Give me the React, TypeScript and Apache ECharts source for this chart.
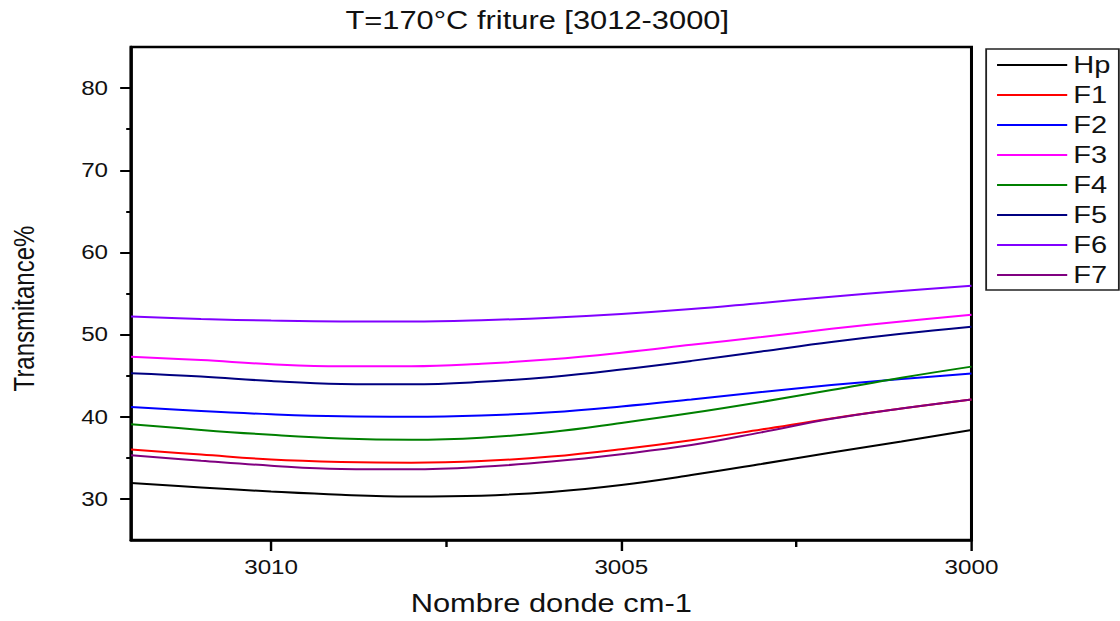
import React, { useEffect, useRef } from "react";
import * as echarts from "echarts";

// Wavenumbers (cm-1) sampled across the window, high to low
const wavenumbers = [3012, 3011, 3010, 3009, 3008, 3007, 3006, 3005, 3004, 3003, 3002, 3001, 3000];

// Transmittance (%) for each sample
const hp = [31.95, 31.4, 30.9, 30.5, 30.3, 30.4, 30.85, 31.7, 32.9, 34.25, 35.65, 37.0, 38.4];
const f1 = [36.0, 35.4, 34.8, 34.5, 34.4, 34.6, 35.15, 36.05, 37.15, 38.45, 39.8, 41.0, 42.1];
const f2 = [41.2, 40.7, 40.3, 40.05, 40.0, 40.15, 40.55, 41.25, 42.1, 43.0, 43.85, 44.6, 45.25];
const f3 = [47.3, 46.9, 46.4, 46.15, 46.15, 46.45, 47.0, 47.8, 48.75, 49.7, 50.7, 51.6, 52.4];
const f4 = [39.1, 38.4, 37.8, 37.35, 37.2, 37.45, 38.15, 39.25, 40.45, 41.8, 43.25, 44.75, 46.1];
const f5 = [45.3, 44.9, 44.35, 44.0, 43.95, 44.25, 44.85, 45.75, 46.8, 47.95, 49.1, 50.1, 50.95];
const f6 = [52.2, 51.9, 51.7, 51.6, 51.6, 51.75, 52.05, 52.5, 53.1, 53.85, 54.6, 55.3, 55.95];
const f7 = [35.3, 34.65, 34.05, 33.65, 33.6, 33.9, 34.55, 35.45, 36.55, 38.1, 39.75, 41.0, 42.1];

const seriesNames = ["Hp", "F1", "F2", "F3", "F4", "F5", "F6", "F7"];
const seriesValues = [hp, f1, f2, f3, f4, f5, f6, f7];
const seriesColors = ["#000000", "#ff0000", "#0000ff", "#ff00ff", "#008000", "#000080", "#8000ff", "#800080"];

// Axis ticks
const xMajorTicks = [3000, 3005, 3010];
const xMinorTicks = [3002.5, 3007.5];
const yMajorTicks = [30, 40, 50, 60, 70, 80];
const yMinorTicks = [35, 45, 55, 65, 75];

const FONT = "'Liberation Sans', Arial, sans-serif";
const TEXT = "#111111";

// The plot is drawn at a narrower width and stretched horizontally
const SX = 1.21;
const PAGE_W = 1120;
const PAGE_H = 621;
const CW = PAGE_W / SX;

export default function App() {
  const ref = useRef<HTMLDivElement>(null);

  useEffect(() => {
    if (!ref.current) return;
    const chart = echarts.init(ref.current, undefined, { renderer: "svg" });

    const axisCommon = {
      type: "value" as const,
      splitLine: { show: false },
    };

    chart.setOption({
      animation: false,
      backgroundColor: "#ffffff",
      title: {
        text: "T=170°C friture [3012-3000]",
        left: 444,
        top: 7,
        textAlign: "center",
        padding: 0,
        textStyle: { fontFamily: FONT, fontSize: 25.5, fontWeight: "normal", color: TEXT },
      },
      grid: {
        left: 108.3,
        right: CW - 802.5,
        top: 47,
        bottom: 80,
        show: true,
        borderColor: "#000",
        borderWidth: 2.5,
        backgroundColor: "transparent",
      },
      legend: {
        orient: "vertical",
        left: 815,
        top: 49,
        padding: [4, 7, 3, 9],
        icon: "rect",
        itemWidth: 58,
        itemHeight: 2,
        itemGap: 6,
        borderColor: "#222",
        borderWidth: 1.5,
        data: seriesNames,
        textStyle: { fontFamily: FONT, fontSize: 24, lineHeight: 24, color: TEXT },
      },
      xAxis: [
        {
          ...axisCommon,
          min: 3000,
          max: 3012,
          inverse: true,
          position: "bottom",
          name: "Nombre donde cm-1",
          nameLocation: "middle",
          nameGap: 50,
          nameTextStyle: { fontFamily: FONT, fontSize: 25.5, color: TEXT },
          axisLine: { show: true, onZero: false, lineStyle: { color: "#000", width: 2.5 } },
          axisTick: { show: true, inside: false, length: 11, customValues: xMajorTicks, lineStyle: { color: "#000", width: 2 } },
          axisLabel: {
            customValues: xMajorTicks,
            margin: 17,
            fontFamily: FONT,
            fontSize: 20,
            color: TEXT,
            formatter: (v: number) => String(v),
          },
        },
        {
          ...axisCommon,
          min: 3000,
          max: 3012,
          inverse: true,
          position: "bottom",
          axisLine: { show: false, onZero: false },
          axisTick: { show: true, inside: false, length: 7, customValues: xMinorTicks, lineStyle: { color: "#000", width: 2 } },
          axisLabel: { show: false },
        },
      ],
      yAxis: [
        {
          ...axisCommon,
          min: 25,
          max: 85,
          position: "left",
          name: "Transmitance%",
          nameLocation: "middle",
          nameRotate: 90,
          nameGap: 76,
          nameTextStyle: { fontFamily: FONT, fontSize: 24, color: TEXT, padding: [0, 30, 0, 0] },
          axisLine: { show: true, onZero: false, lineStyle: { color: "#000", width: 2.5 } },
          axisTick: { show: true, inside: false, length: 9, customValues: yMajorTicks, lineStyle: { color: "#000", width: 2 } },
          axisLabel: {
            customValues: yMajorTicks,
            margin: 19,
            fontFamily: FONT,
            fontSize: 20,
            color: TEXT,
          },
        },
        {
          ...axisCommon,
          min: 25,
          max: 85,
          position: "left",
          axisLine: { show: false, onZero: false },
          axisTick: { show: true, inside: false, length: 4, customValues: yMinorTicks, lineStyle: { color: "#000", width: 2 } },
          axisLabel: { show: false },
        },
      ],
      series: seriesNames.map((name, i) => ({
        name,
        type: "line",
        xAxisIndex: 0,
        yAxisIndex: 0,
        symbol: "none",
        smooth: 0.4,
        color: seriesColors[i],
        lineStyle: { color: seriesColors[i], width: 2 },
        data: wavenumbers.map((w, j) => [w, seriesValues[i][j]]),
      })),
    });

    return () => chart.dispose();
  }, []);

  return (
    <div
      style={{
        position: "fixed",
        left: 0,
        top: 0,
        width: PAGE_W,
        height: PAGE_H,
        overflow: "hidden",
        background: "#fff",
      }}
    >
      <div
        ref={ref}
        style={{
          width: CW,
          height: PAGE_H,
          transform: `scaleX(${SX})`,
          transformOrigin: "0 0",
        }}
      />
    </div>
  );
}
